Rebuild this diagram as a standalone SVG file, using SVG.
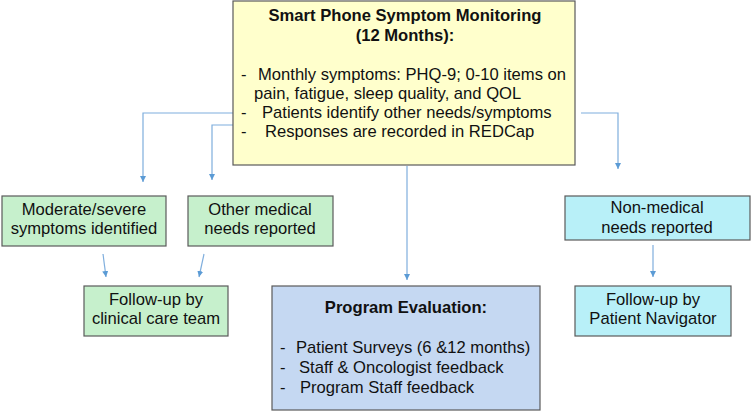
<svg xmlns="http://www.w3.org/2000/svg" width="752" height="412" viewBox="0 0 752 412">
<defs>
<marker id="ah" markerWidth="8" markerHeight="8" refX="6" refY="3" orient="auto" markerUnits="userSpaceOnUse">
<path d="M0,0 L6,3 L0,6 z" fill="#5B9BD5"/>
</marker>
<style>
.box{stroke:#5a5a5a;stroke-width:1.2}
.t{font-family:"Liberation Sans",Arial,sans-serif;font-size:16.6px;fill:#111}
.c{text-anchor:middle}
.b{font-weight:bold}
.conn{fill:none;stroke:#7FAEDD;stroke-width:1.2;marker-end:url(#ah)}
</style>
</defs>
<g id="connectors">
<path class="conn" d="M233,113 H143 V182"/>
<path class="conn" d="M233,125 H212 V180"/>
<path class="conn" d="M581,113 H618 V169"/>
<path class="conn" d="M407,166 V280"/>
<path class="conn" d="M103,254 L106,277"/>
<path class="conn" d="M204,254 L199,277"/>
<path class="conn" d="M653,245 V277"/>
</g>
<g id="monitoring">
<rect class="box" x="233" y="1" width="342" height="164" fill="#FFFFCC"/>
<text class="t c b" x="405" y="21">Smart Phone Symptom Monitoring</text>
<text class="t c b" x="405" y="41">(12 Months):</text>
<text class="t" x="241" y="80">-</text>
<text class="t" x="258" y="80">Monthly symptoms: PHQ-9; 0-10 items on</text>
<text class="t" x="254" y="99">pain, fatigue, sleep quality, and QOL</text>
<text class="t" x="241" y="118">-</text>
<text class="t" x="262" y="118">Patients identify other needs/symptoms</text>
<text class="t" x="241" y="137">-</text>
<text class="t" x="265" y="137">Responses are recorded in REDCap</text>
</g>
<g id="moderate">
<rect class="box" x="2" y="196" width="164" height="50" fill="#C6F0CC"/>
<text class="t c" x="84" y="215">Moderate/severe</text>
<text class="t c" x="84" y="234">symptoms identified</text>
</g>
<g id="other-medical">
<rect class="box" x="188" y="196" width="145" height="50" fill="#C6F0CC"/>
<text class="t c" x="260" y="215">Other medical</text>
<text class="t c" x="260" y="234">needs reported</text>
</g>
<g id="non-medical">
<rect class="box" x="565" y="196" width="185" height="44" fill="#B8F0F8"/>
<text class="t c" x="657" y="213">Non-medical</text>
<text class="t c" x="657" y="233">needs reported</text>
</g>
<g id="clinical">
<rect class="box" x="84" y="286" width="144" height="50" fill="#C6F0CC"/>
<text class="t c" x="156" y="305">Follow-up by</text>
<text class="t c" x="156" y="324">clinical care team</text>
</g>
<g id="evaluation">
<rect class="box" x="272" y="286" width="268" height="124" fill="#C5D8F2"/>
<text class="t c b" x="406" y="313">Program Evaluation:</text>
<text class="t" x="280" y="353">-</text>
<text class="t" x="296" y="353">Patient Surveys (6 &amp;12 months)</text>
<text class="t" x="280" y="373">-</text>
<text class="t" x="299" y="373">Staff &amp; Oncologist feedback</text>
<text class="t" x="280" y="393">-</text>
<text class="t" x="300" y="393">Program Staff feedback</text>
</g>
<g id="navigator">
<rect class="box" x="575" y="286" width="156" height="50" fill="#B8F0F8"/>
<text class="t c" x="653" y="305">Follow-up by</text>
<text class="t c" x="653" y="324">Patient Navigator</text>
</g>
</svg>
